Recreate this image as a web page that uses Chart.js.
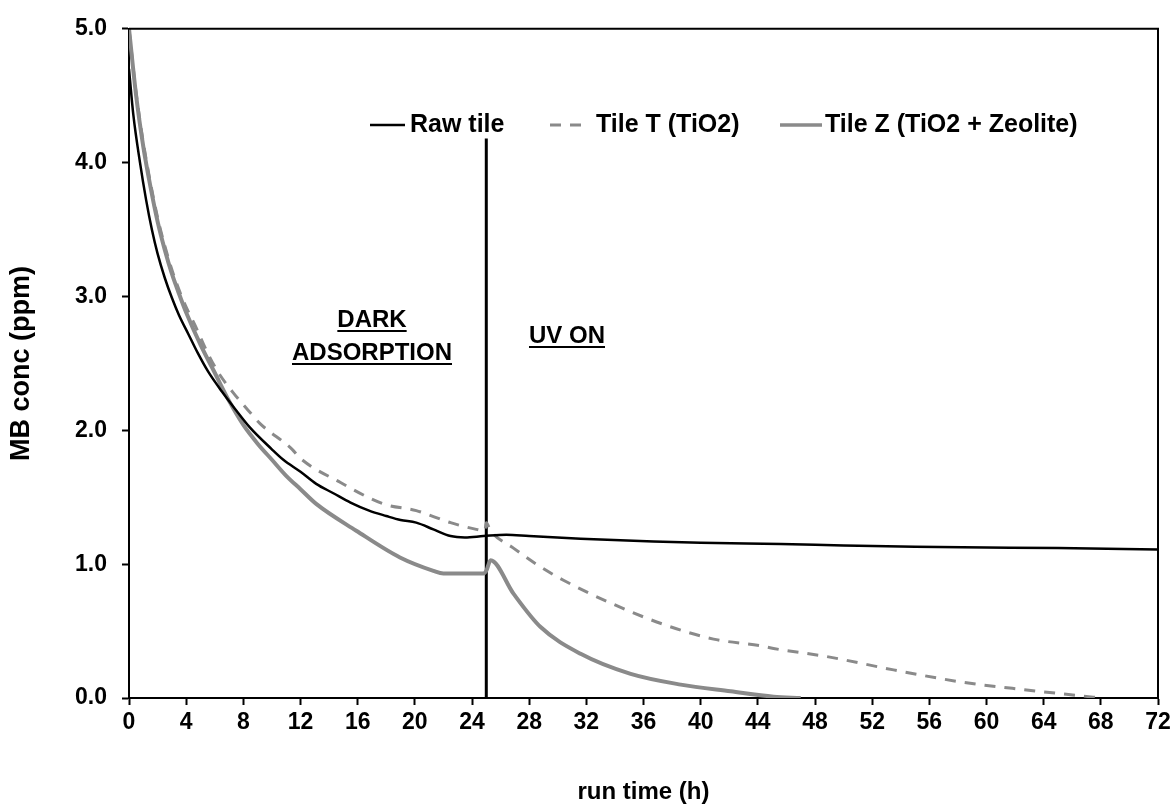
<!DOCTYPE html>
<html>
<head>
<meta charset="utf-8">
<script src="https://cdn.jsdelivr.net/npm/chart.js@4.4.1/dist/chart.umd.min.js"></script>
<style>
  html, body { margin: 0; padding: 0; background: #fff; }
  #wrap { width: 1176px; height: 810px; }
</style>
</head>
<body>
<div id="wrap"><canvas id="mbChart" width="1176" height="810"></canvas></div>
<script>
// run time (h) and MB conc (ppm)
const rawTime = [0, 0.3, 0.77, 1.2, 1.6, 2.0, 2.5, 3.0, 3.5, 4.15, 4.8, 5.53, 6.5, 7.42, 8.47, 9.98, 10.8, 12, 13.1, 14.3, 15.5, 16.8, 18.0, 19.0, 20.1, 21.3, 22.5, 23.5, 24.8, 26.4, 28, 31.6, 36.7, 40, 45.6, 50, 55, 60, 65, 72];
const rawConc = [4.7, 4.36, 4.0, 3.72, 3.5, 3.32, 3.14, 2.99, 2.86, 2.72, 2.58, 2.44, 2.29, 2.16, 2.02, 1.86, 1.78, 1.69, 1.6, 1.53, 1.46, 1.4, 1.36, 1.33, 1.31, 1.26, 1.21, 1.2, 1.21, 1.22, 1.21, 1.19, 1.17, 1.16, 1.15, 1.14, 1.13, 1.125, 1.12, 1.11];

const tileTTime = [0, 0.5, 1.0, 1.5, 2.0, 2.5, 3.0, 3.5, 4.0, 4.6, 5.4, 6.2, 7.3, 8.58, 9.17, 11.4, 12, 14.8, 17.8, 20.1, 22.5, 24.3, 24.9, 25.0, 25.3, 26.9, 28.5, 30.4, 33.9, 37.4, 40.9, 44.2, 45.1, 48.8, 53.5, 58.2, 62.8, 66.3, 68];
const tileTConc = [5.0, 4.52, 4.15, 3.85, 3.59, 3.38, 3.2, 3.05, 2.92, 2.79, 2.6, 2.44, 2.28, 2.12, 2.05, 1.86, 1.79, 1.61, 1.45, 1.4, 1.31, 1.26, 1.25, 1.31, 1.25, 1.12, 1.0, 0.88, 0.7, 0.55, 0.44, 0.39, 0.37, 0.31, 0.21, 0.12, 0.06, 0.02, 0.0];

const tileZTime = [0, 0.5, 1.0, 1.5, 2.0, 2.5, 3.0, 3.5, 4.0, 5.0, 6.0, 7.0, 8.0, 9.0, 10.0, 11.0, 12.0, 13.1, 15.9, 18.96, 21.3, 22, 24.8, 25.0, 25.3, 26.9, 28.8, 31.6, 35.1, 38.6, 42.1, 45.1, 47];
const tileZConc = [5.0, 4.5, 4.12, 3.82, 3.56, 3.35, 3.17, 3.02, 2.88, 2.64, 2.43, 2.22, 2.04, 1.9, 1.78, 1.66, 1.56, 1.45, 1.25, 1.05, 0.95, 0.93, 0.93, 0.95, 1.03, 0.78, 0.53, 0.33, 0.18, 0.1, 0.05, 0.01, 0.0];

// UV lamp switched on
const uvOnTime = 25;
const uvLineTop = 4.18;

const xTicks = [0, 4, 8, 12, 16, 20, 24, 28, 32, 36, 40, 44, 48, 52, 56, 60, 64, 68, 72];
const yTicks = [0, 1, 2, 3, 4, 5];

const toPoints = (xs, ys) => xs.map((x, i) => ({ x, y: ys[i] }));

const grey = "#8a8a8a";
const fontFamily = "'Liberation Sans', Arial, sans-serif";

const frameAndNotes = {
  id: "frameAndNotes",
  afterDraw(chart) {
    const { ctx, chartArea } = chart;
    ctx.save();

    // top and right frame
    ctx.strokeStyle = "#000";
    ctx.lineWidth = 2;
    ctx.beginPath();
    ctx.moveTo(chartArea.left, chartArea.top);
    ctx.lineTo(chartArea.right, chartArea.top);
    ctx.lineTo(chartArea.right, chartArea.bottom);
    ctx.stroke();

    // legend
    const ly = 125;
    ctx.font = "bold 25px " + fontFamily;
    ctx.textBaseline = "middle";
    ctx.textAlign = "left";
    ctx.fillStyle = "#000";

    ctx.lineWidth = 2.5;
    ctx.strokeStyle = "#000";
    ctx.beginPath(); ctx.moveTo(370, ly); ctx.lineTo(405, ly); ctx.stroke();
    ctx.fillText("Raw tile", 410, ly);

    ctx.lineWidth = 3;
    ctx.strokeStyle = grey;
    ctx.setLineDash([11, 9]);
    ctx.beginPath(); ctx.moveTo(550, ly); ctx.lineTo(590, ly); ctx.stroke();
    ctx.setLineDash([]);
    ctx.fillText("Tile T (TiO2)", 596, ly);

    ctx.lineWidth = 3.5;
    ctx.beginPath(); ctx.moveTo(780, ly); ctx.lineTo(822, ly); ctx.stroke();
    ctx.fillText("Tile Z (TiO2 + Zeolite)", 825, ly);

    // phase labels, underlined
    ctx.font = "bold 24px " + fontFamily;
    ctx.textAlign = "center";
    ctx.textBaseline = "alphabetic";
    const underlined = (text, cx, by) => {
      ctx.fillText(text, cx, by);
      const w = ctx.measureText(text).width;
      ctx.lineWidth = 2;
      ctx.strokeStyle = "#000";
      ctx.beginPath();
      ctx.moveTo(cx - w / 2, by + 4);
      ctx.lineTo(cx + w / 2, by + 4);
      ctx.stroke();
    };
    underlined("DARK", 372, 327);
    underlined("ADSORPTION", 372, 360);
    underlined("UV ON", 567, 343);

    ctx.restore();
  },
};

new Chart(document.getElementById("mbChart"), {
  type: "scatter",
  data: {
    datasets: [
      {
        label: "Raw tile",
        data: toPoints(rawTime, rawConc),
        showLine: true,
        borderColor: "#000",
        borderWidth: 2.5,
        pointRadius: 0,
        cubicInterpolationMode: "monotone",
      },
      {
        label: "Tile T (TiO2)",
        data: toPoints(tileTTime, tileTConc),
        showLine: true,
        borderColor: grey,
        borderWidth: 3,
        borderDash: [11, 9],
        pointRadius: 0,
        cubicInterpolationMode: "monotone",
      },
      {
        label: "Tile Z (TiO2 + Zeolite)",
        data: toPoints(tileZTime, tileZConc),
        showLine: true,
        borderColor: grey,
        borderWidth: 4,
        pointRadius: 0,
        cubicInterpolationMode: "monotone",
      },
      {
        label: "UV on",
        data: [{ x: uvOnTime, y: 0 }, { x: uvOnTime, y: uvLineTop }],
        showLine: true,
        borderColor: "#000",
        borderWidth: 3,
        pointRadius: 0,
      },
    ],
  },
  options: {
    responsive: false,
    animation: false,
    layout: { padding: { left: 0, top: 25, right: 18, bottom: 0 } },
    plugins: {
      legend: { display: false },
      tooltip: { enabled: false },
    },
    scales: {
      x: {
        type: "linear",
        min: 0,
        max: 72,
        afterBuildTicks: (s) => { s.ticks = xTicks.map((v) => ({ value: v })); },
        afterFit: (s) => { s.height = 112; },
        ticks: {
          color: "#000",
          padding: 4,
          font: { family: fontFamily, size: 23, weight: "bold" },
        },
        grid: {
          drawOnChartArea: false,
          drawTicks: true,
          tickLength: 7,
          tickWidth: 2,
          tickColor: "#000",
        },
        border: { display: true, color: "#000", width: 2 },
        title: {
          display: true,
          text: "run time (h)",
          color: "#000",
          padding: { top: 0, bottom: 3 },
          font: { family: fontFamily, size: 24, weight: "bold" },
        },
      },
      y: {
        type: "linear",
        min: 0,
        max: 5,
        afterBuildTicks: (s) => { s.ticks = yTicks.map((v) => ({ value: v })); },
        afterFit: (s) => { s.width = 129; },
        ticks: {
          color: "#000",
          padding: 15,
          callback: (v) => v.toFixed(1),
          font: { family: fontFamily, size: 23, weight: "bold" },
        },
        grid: {
          drawOnChartArea: false,
          drawTicks: true,
          tickLength: 7,
          tickWidth: 2,
          tickColor: "#000",
        },
        border: { display: true, color: "#000", width: 2 },
        title: {
          display: true,
          text: "MB conc (ppm)",
          color: "#000",
          padding: { top: 5, bottom: 0 },
          font: { family: fontFamily, size: 27, weight: "bold" },
        },
      },
    },
  },
  plugins: [frameAndNotes],
});
</script>
</body>
</html>
